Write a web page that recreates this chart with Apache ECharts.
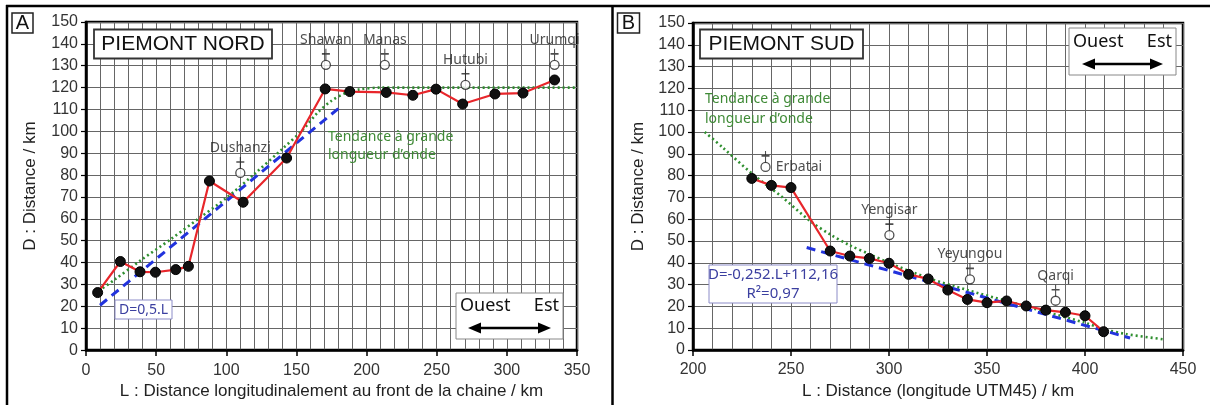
<!DOCTYPE html>
<html><head><meta charset="utf-8">
<script src="https://cdn.jsdelivr.net/npm/echarts/dist/echarts.min.js"></script>
<style>html,body{margin:0;padding:0;background:#fff}#c{width:1210px;height:405px}</style>
</head><body><div id="c"></div>
<script>
// ---------- Panel A (Piemont Nord) ----------
const aL = [8.3, 24.5, 38.5, 49.5, 64, 73, 88, 112, 143, 170.5, 188, 214, 233, 249.5, 268.5, 291.5, 311.5, 334];
const aD = [26.3, 40.5, 35.8, 35.6, 36.8, 38.3, 77.3, 67.6, 87.8, 119.4, 118.2, 117.8, 116.5, 119.3, 112.5, 117.1, 117.5, 123.5];
const aTrendL = [9, 20, 40, 60, 80, 100, 120, 140, 155, 165, 175, 185, 195, 210, 350];
const aTrendD = [27, 32, 41.5, 50.5, 60, 69.5, 80.5, 92, 101, 108.5, 114, 117.5, 119.2, 120, 120];
const aFitL = [10, 180];
const aFitD = [20.5, 110.5];
const aStations = ['Dushanzi', 'Shawan', 'Manas', 'Hutubi', 'Urumqi'];
const aStationL = [110, 171, 213, 270.5, 334];
const aStationD = [81, 130.4, 130.4, 121.3, 130.4];

// ---------- Panel B (Piemont Sud) ----------
const bL = [230, 240, 250, 270, 280, 290, 300, 310, 320, 330, 340, 350, 360, 370, 380, 390, 400, 409.5];
const bD = [78.7, 75.5, 74.5, 45.4, 43.1, 42, 39.8, 34.7, 32.6, 27.5, 23.2, 21.7, 22.5, 20.2, 18.3, 17.3, 15.7, 8.4];
const bTrendL = [206, 215, 230, 245, 260, 270, 280, 290, 300, 320, 340, 360, 380, 400, 410, 421, 440];
const bTrendD = [100, 93, 81, 70.5, 59, 53, 48, 44, 40, 33, 27.5, 22.5, 17.5, 12.5, 9.5, 7.3, 4.9];
const bFitL = [258, 423];
const bFitD = [47, 5.5];
const bStations = ['Erbatai', 'Yengisar', 'Yeyungou', 'Qarqi'];
const bStationL = [237, 300.2, 341.3, 385];
const bStationD = [84, 52.7, 32.4, 22.6];

// ---------- Axis ticks ----------
const aXTicks = {min: 0, max: 350, interval: 50};
const bXTicks = {min: 200, max: 450, interval: 50};
const yTicks = {min: 0, max: 150, interval: 10};

const zip = (xs, ys) => xs.map((x, i) => [x, ys[i]]);

const GRID_COLOR = '#666';
const TICK_FONT = 'Liberation Sans, Arial, sans-serif';
const LABEL_FONT = 'Noto Sans, sans-serif';

function xAxis(idx, t, name, gap) {
  return {
    gridIndex: idx, type: 'value', min: t.min, max: t.max, interval: t.interval,
    name: name, nameLocation: 'middle', nameGap: gap,
    nameTextStyle: {fontFamily: TICK_FONT, fontSize: 17, color: '#222'},
    axisLine: {show: true, onZero: false, lineStyle: {color: '#000', width: 2.5}},
    axisTick: {show: true, length: 6, lineStyle: {color: '#000', width: 1.5}},
    axisLabel: {fontFamily: TICK_FONT, fontSize: 16, color: '#333', margin: 12},
    splitLine: {show: true, lineStyle: {color: GRID_COLOR, width: 1}},
    minorTick: {show: false, splitNumber: 5},
    minorSplitLine: {show: true, lineStyle: {color: GRID_COLOR, width: 1}}
  };
}
function yAxis(idx, gap) {
  return {
    gridIndex: idx, type: 'value', min: yTicks.min, max: yTicks.max, interval: yTicks.interval,
    name: 'D : Distance / km', nameLocation: 'middle', nameGap: gap,
    nameTextStyle: {fontFamily: TICK_FONT, fontSize: 17, color: '#222'},
    axisLine: {show: true, onZero: false, lineStyle: {color: '#000', width: 2.5}},
    axisTick: {show: true, length: 5, lineStyle: {color: '#000', width: 1.2}},
    axisLabel: {fontFamily: TICK_FONT, fontSize: 16, color: '#333', margin: 8},
    splitLine: {show: true, lineStyle: {color: GRID_COLOR, width: 1}}
  };
}

const CROSS = 'path://M4,0L4,12M0,5L8,5';

function panelSeries(idx, L, D, tL, tD, fL, fD, names, sL, sD, labelOverrides) {
  const common = {xAxisIndex: idx, yAxisIndex: idx, animation: false, silent: true};
  return [
    Object.assign({type: 'line', data: zip(tL, tD), smooth: 0.3, showSymbol: false, symbol: 'none',
      lineStyle: {color: '#2f8f2f', width: 2.6, type: [2, 3]}, z: 3}, common),
    Object.assign({type: 'line', data: zip(fL, fD), showSymbol: false, symbol: 'none',
      lineStyle: {color: '#2233dd', width: 3, type: [9, 6]}, z: 4}, common),
    Object.assign({type: 'line', data: zip(L, D), symbol: 'circle', symbolSize: 10,
      itemStyle: {color: '#111', borderColor: '#000', borderWidth: 1},
      lineStyle: {color: '#e8262b', width: 2.2}, z: 5}, common),
    Object.assign({type: 'scatter', data: zip(sL, sD), symbol: CROSS, symbolSize: [8, 12], symbolOffset: [0, -10],
      itemStyle: {color: 'none', borderColor: '#222', borderWidth: 1.3}, z: 6}, common),
    Object.assign({type: 'scatter', symbol: 'circle', symbolSize: 9,
      itemStyle: {color: '#fff', borderColor: '#222', borderWidth: 1.3}, z: 7,
      data: sL.map((x, i) => {
        const o = {value: [x, sD[i]], name: names[i]};
        if (labelOverrides && labelOverrides[names[i]]) o.label = labelOverrides[names[i]];
        return o;
      }),
      labelLayout: {hideOverlap: false},
      label: {show: true, position: 'top', distance: 13, formatter: '{b}', overflow: 'none',
        fontFamily: LABEL_FONT, fontSize: 14, color: '#222'}}, common)
  ];
}

function arrow(cx1, cx2, y) {
  return [
    {type: 'line', shape: {x1: cx1 + 8, y1: y, x2: cx2 - 8, y2: y}, style: {stroke: '#000', lineWidth: 2.5}, z: 101},
    {type: 'polygon', shape: {points: [[cx1, y], [cx1 + 13, y - 5.5], [cx1 + 13, y + 5.5]]}, style: {fill: '#000'}, z: 101},
    {type: 'polygon', shape: {points: [[cx2, y], [cx2 - 13, y - 5.5], [cx2 - 13, y + 5.5]]}, style: {fill: '#000'}, z: 101}
  ];
}
function box(x, y, w, h, stroke, lw) {
  return {type: 'rect', shape: {x: x, y: y, width: w, height: h}, style: {fill: '#fff', stroke: stroke, lineWidth: lw}, z: 100};
}
function text(x, y, t, opts) {
  return {type: 'text', x: x, y: y, z: 102, style: Object.assign({text: t, fill: '#222', fontFamily: LABEL_FONT, fontSize: 14}, opts || {})};
}

const graphics = [
  // outer frames
  {type: 'line', shape: {x1: 6, y1: 6, x2: 1210, y2: 6}, style: {stroke: '#000', lineWidth: 2.5}, z: 110},
  {type: 'line', shape: {x1: 7, y1: 5, x2: 7, y2: 405}, style: {stroke: '#000', lineWidth: 2.5}, z: 110},
  {type: 'line', shape: {x1: 612.5, y1: 5, x2: 612.5, y2: 405}, style: {stroke: '#000', lineWidth: 2.5}, z: 110},
  // panel letters
  box(12, 13, 21, 20, '#222', 1.5),
  text(22.5, 23.5, 'A', {fontFamily: TICK_FONT, fontSize: 20, align: 'center', verticalAlign: 'middle', fill: '#111'}),
  box(617.5, 13, 22, 20, '#222', 1.5),
  text(628.5, 23.5, 'B', {fontFamily: TICK_FONT, fontSize: 20, align: 'center', verticalAlign: 'middle', fill: '#111'}),
  // titles
  box(94, 29.5, 178, 29, '#333', 1.8),
  text(183, 44.5, 'PIEMONT NORD', {fontFamily: TICK_FONT, fontSize: 21, align: 'center', verticalAlign: 'middle', fill: '#111'}),
  box(700, 29.5, 163, 29, '#333', 1.8),
  text(781.5, 44.5, 'PIEMONT SUD', {fontFamily: TICK_FONT, fontSize: 21, align: 'center', verticalAlign: 'middle', fill: '#111'}),
  // trend labels
  text(328, 128, 'Tendance à grande\nlongueur d\u2019onde', {fill: '#3f8a36', lineHeight: 18}),
  text(705, 89, 'Tendance à grande\nlongueur d\u2019onde', {fill: '#3f8a36', lineHeight: 20}),
  // regression labels
  {type: 'rect', shape: {x: 115, y: 300, width: 57, height: 19}, style: {fill: '#fff', stroke: '#8c8cc8', lineWidth: 1}, z: 100},
  text(143.5, 310, 'D=0,5.L', {fill: '#3b3fa0', align: 'center', verticalAlign: 'middle'}),
  {type: 'rect', shape: {x: 709, y: 265, width: 128, height: 38}, style: {fill: '#fff', stroke: '#8c8cc8', lineWidth: 1}, z: 100},
  text(773, 274.5, 'D=-0,252.L+112,16', {fill: '#3b3fa0', align: 'center', verticalAlign: 'middle', fontSize: 15}),
  text(773, 294, 'R\u00b2=0,97', {fill: '#3b3fa0', align: 'center', verticalAlign: 'middle', fontSize: 15}),
  // direction boxes
  {type: 'rect', shape: {x: 456, y: 293, width: 107, height: 46}, style: {fill: '#fff', stroke: '#888', lineWidth: 1}, z: 100},
  text(460, 306, 'Ouest', {fontSize: 18, verticalAlign: 'middle', fill: '#111'}),
  text(559, 306, 'Est', {fontSize: 18, verticalAlign: 'middle', align: 'right', fill: '#111'}),
  ...arrow(468, 551, 328),
  {type: 'rect', shape: {x: 1069, y: 28, width: 107, height: 47}, style: {fill: '#fff', stroke: '#888', lineWidth: 1}, z: 100},
  text(1073, 42, 'Ouest', {fontSize: 18, verticalAlign: 'middle', fill: '#111'}),
  text(1172, 42, 'Est', {fontSize: 18, verticalAlign: 'middle', align: 'right', fill: '#111'}),
  ...arrow(1082, 1163, 64)
];

const chart = echarts.init(document.getElementById('c'), null, {renderer: 'canvas'});
chart.setOption({
  animation: false,
  backgroundColor: '#fff',
  grid: [
    {left: 86, top: 22, width: 491, height: 329, show: true, borderColor: '#000', borderWidth: 2.5, backgroundColor: 'transparent'},
    {left: 693, top: 23, width: 490, height: 327, show: true, borderColor: '#000', borderWidth: 2.5, backgroundColor: 'transparent'}
  ],
  xAxis: [
    xAxis(0, aXTicks, 'L : Distance longitudinalement au front de la chaine / km', 31),
    xAxis(1, bXTicks, 'L : Distance (longitude UTM45) / km', 32)
  ],
  yAxis: [yAxis(0, 47), yAxis(1, 46)],
  series: [
    ...panelSeries(0, aL, aD, aTrendL, aTrendD, aFitL, aFitD, aStations, aStationL, aStationD, null),
    ...panelSeries(1, bL, bD, bTrendL, bTrendD, bFitL, bFitD, bStations, bStationL, bStationD,
      {Erbatai: {position: 'right', distance: 5, offset: [0, -7]}})
  ],
  graphic: graphics
});
</script></body></html>
